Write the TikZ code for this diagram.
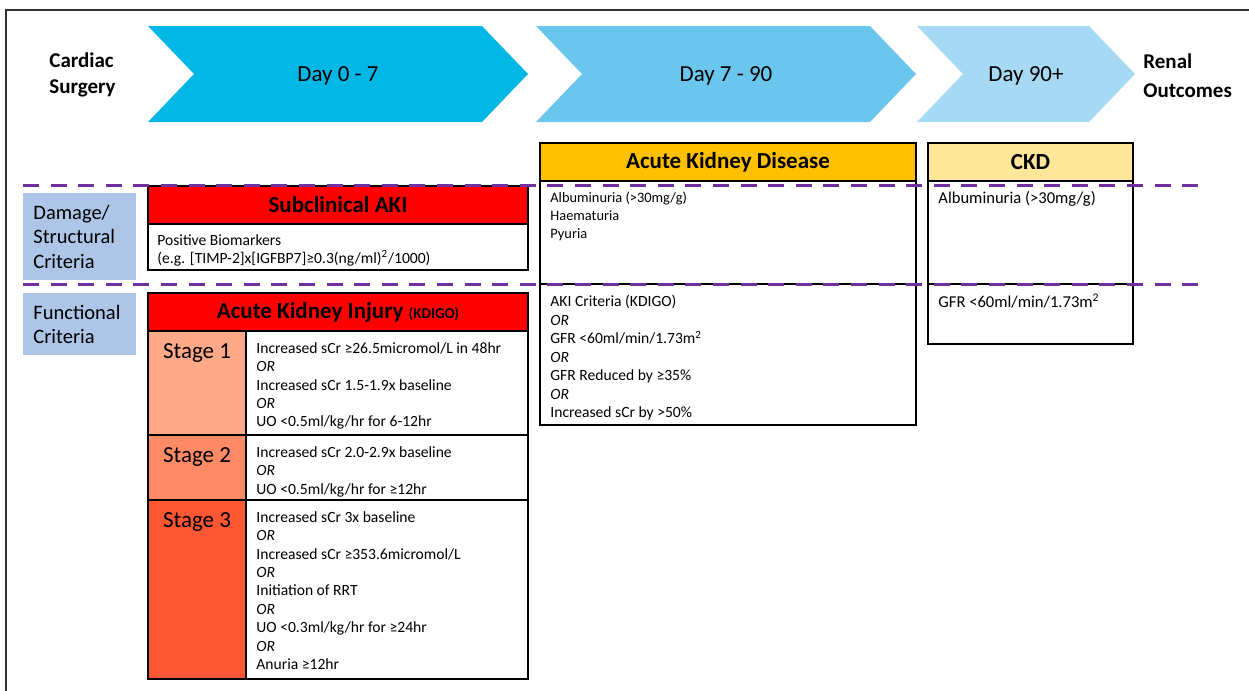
\documentclass[tikz,border=0pt]{standalone}
\usepackage{fontspec}
\setmainfont{Carlito}
\usetikzlibrary{positioning}

\definecolor{dayone}{HTML}{00B7E6}
\definecolor{daytwo}{HTML}{6BC6EE}
\definecolor{daythree}{HTML}{A6D9F4}
\definecolor{critblue}{HTML}{ADC5E7}
\definecolor{akired}{HTML}{FF0000}
\definecolor{stageone}{HTML}{FFA988}
\definecolor{stagetwo}{HTML}{FF8B66}
\definecolor{stagethree}{HTML}{FF5733}
\definecolor{akdorange}{HTML}{FFC000}
\definecolor{ckdyellow}{HTML}{FFE699}
\definecolor{splitpurple}{HTML}{7030A0}

\tikzset{
  cellbox/.style={draw=black, line width=0.65pt, inner sep=0pt, outer sep=0pt, anchor=north west},
  headtext/.style={font=\fontsize{11.5}{14}\selectfont\bfseries},
  daytext/.style={font=\fontsize{11.5}{14}\selectfont},
  endtext/.style={font=\fontsize{10.5}{13}\selectfont\bfseries, align=left, inner sep=0pt, anchor=west},
  bodytext/.style={font=\fontsize{7.8}{9.2}\selectfont, align=left, inner sep=0pt},
  sidebox/.style={fill=critblue, inner xsep=5pt, inner ysep=0pt, text width=46.5pt, align=left,
    anchor=north west, font=\fontsize{10.25}{12.25}\selectfont},
  stagetext/.style={font=\fontsize{11.5}{14}\selectfont, inner sep=0pt},
  split/.style={splitpurple, line width=1.5pt, dash pattern=on 8pt off 5.8pt},
}

\begin{document}
\begin{tikzpicture}[x=0.5pt,y=-0.5pt]
\useasboundingbox (0,0) rectangle (1249,691);
% frame
\draw[line width=1pt, black!80] (6,691) -- (6,10) -- (1249,10);

% time line
\fill[dayone] (148,26) -- (482,26) -- (528,74) -- (482,122) -- (148,122) -- (194,74) -- cycle;
\fill[daytwo] (536,26) -- (870,26) -- (916,74) -- (870,122) -- (536,122) -- (582,74) -- cycle;
\fill[daythree] (917,26) -- (1089,26) -- (1135,74) -- (1089,122) -- (917,122) -- (963,74) -- cycle;
\node[daytext] (d07) at (338,76) {Day 0 - 7};
\node[daytext] (d790) at (726,76) {Day 7 - 90};
\node[daytext] (d90) at (1026,76) {Day 90+};
\node[endtext] (surg) at (49,75) {Cardiac\\Surgery};
\node[endtext, font=\fontsize{10.5}{14.5}\selectfont\bfseries] (outc) at (1143,76) {Renal\\Outcomes};

% criteria
\node[sidebox, minimum height=43.5pt] (dmg) at (23,193) {Damage/\\Structural\\Criteria};
\node[sidebox, minimum height=31pt] (fun) at (23,293) {Functional\\Criteria};

% subclinical AKI
\node[cellbox, fill=akired, minimum width=190pt, minimum height=19pt, headtext] (sub) at (148,186) {Subclinical AKI};
\node[cellbox, minimum width=190pt, minimum height=23pt] (subb) at (sub.south west) {};
\node[bodytext, below right=5pt and 4.5pt of subb.north west] (subt)
  {Positive Biomarkers\\(e.g. [TIMP-2]x[IGFBP7]≥0.3(ng/ml)\textsuperscript{2}/1000)};

% acute kidney injury
\node[cellbox, fill=akired, minimum width=190pt, minimum height=19pt, headtext] (aki) at (148,293)
  {Acute Kidney Injury {\fontsize{7.5}{9}\selectfont(KDIGO)}};
\node[cellbox, fill=stageone, minimum width=49pt, minimum height=52pt] (s1) at (aki.south west) {};
\node[cellbox, minimum width=141pt, minimum height=52pt] (s1c) at (s1.north east) {};
\node[cellbox, fill=stagetwo, minimum width=49pt, minimum height=32.5pt] (s2) at (s1.south west) {};
\node[cellbox, minimum width=141pt, minimum height=32.5pt] (s2c) at (s2.north east) {};
\node[cellbox, fill=stagethree, minimum width=49pt, minimum height=89.5pt] (s3) at (s2.south west) {};
\node[cellbox, minimum width=141pt, minimum height=89.5pt] (s3c) at (s3.north east) {};
\node[stagetext, below=6pt of s1.north] (s1l) {Stage 1};
\node[stagetext, below=6pt of s2.north] (s2l) {Stage 2};
\node[stagetext, below=6pt of s3.north] (s3l) {Stage 3};
\node[bodytext, below right=5.5pt and 5pt of s1c.north west] (s1t)
  {Increased sCr ≥26.5micromol/L in 48hr\\\textit{OR}\\Increased sCr 1.5-1.9x baseline\\\textit{OR}\\UO <0.5ml/kg/hr for 6-12hr};
\node[bodytext, below right=5.5pt and 5pt of s2c.north west] (s2t)
  {Increased sCr 2.0-2.9x baseline\\\textit{OR}\\UO <0.5ml/kg/hr for ≥12hr};
\node[bodytext, below right=5.5pt and 5pt of s3c.north west] (s3t)
  {Increased sCr 3x baseline\\\textit{OR}\\Increased sCr ≥353.6micromol/L\\\textit{OR}\\Initiation of RRT\\\textit{OR}\\UO <0.3ml/kg/hr for ≥24hr\\\textit{OR}\\Anuria ≥12hr};

% acute kidney disease
\node[cellbox, fill=akdorange, minimum width=188pt, minimum height=19pt, headtext] (akd) at (540,143) {Acute Kidney Disease};
\node[cellbox, minimum width=188pt, minimum height=51.5pt] (akdup) at (akd.south west) {};
\node[cellbox, minimum width=188pt, minimum height=70.5pt] (akdlo) at (akdup.south west) {};
\node[bodytext, font=\fontsize{7.2}{9}\selectfont, below right=5.5pt and 5pt of akdup.north west] (akdupt)
  {Albuminuria (>30mg/g)\\Haematuria\\Pyuria};
\node[bodytext, font=\fontsize{7.8}{9.25}\selectfont, below right=5.5pt and 5pt of akdlo.north west] (akdlot)
  {AKI Criteria (KDIGO)\\\textit{OR}\\GFR <60ml/min/1.73m\textsuperscript{2}\\\textit{OR}\\GFR Reduced by ≥35\%\\\textit{OR}\\Increased sCr by >50\%};

% chronic kidney disease
\node[cellbox, fill=ckdyellow, minimum width=102.5pt, minimum height=19pt, headtext] (ckd) at (928,143) {CKD};
\node[cellbox, minimum width=102.5pt, minimum height=51.5pt] (ckdup) at (ckd.south west) {};
\node[cellbox, minimum width=102.5pt, minimum height=30pt] (ckdlo) at (ckdup.south west) {};
\node[bodytext, font=\fontsize{8.3}{10}\selectfont, below right=5pt and 5pt of ckdup.north west] (ckdupt)
  {Albuminuria (>30mg/g)};
\node[bodytext, font=\fontsize{8.3}{10}\selectfont, below right=5pt and 5pt of ckdlo.north west] (ckdlot)
  {GFR <60ml/min/1.73m\textsuperscript{2}};

% damage / functional split
\draw[split] (23,185) -- (1203,185);
\draw[split] (23,284) -- (1203,284);
\end{tikzpicture}
\end{document}
